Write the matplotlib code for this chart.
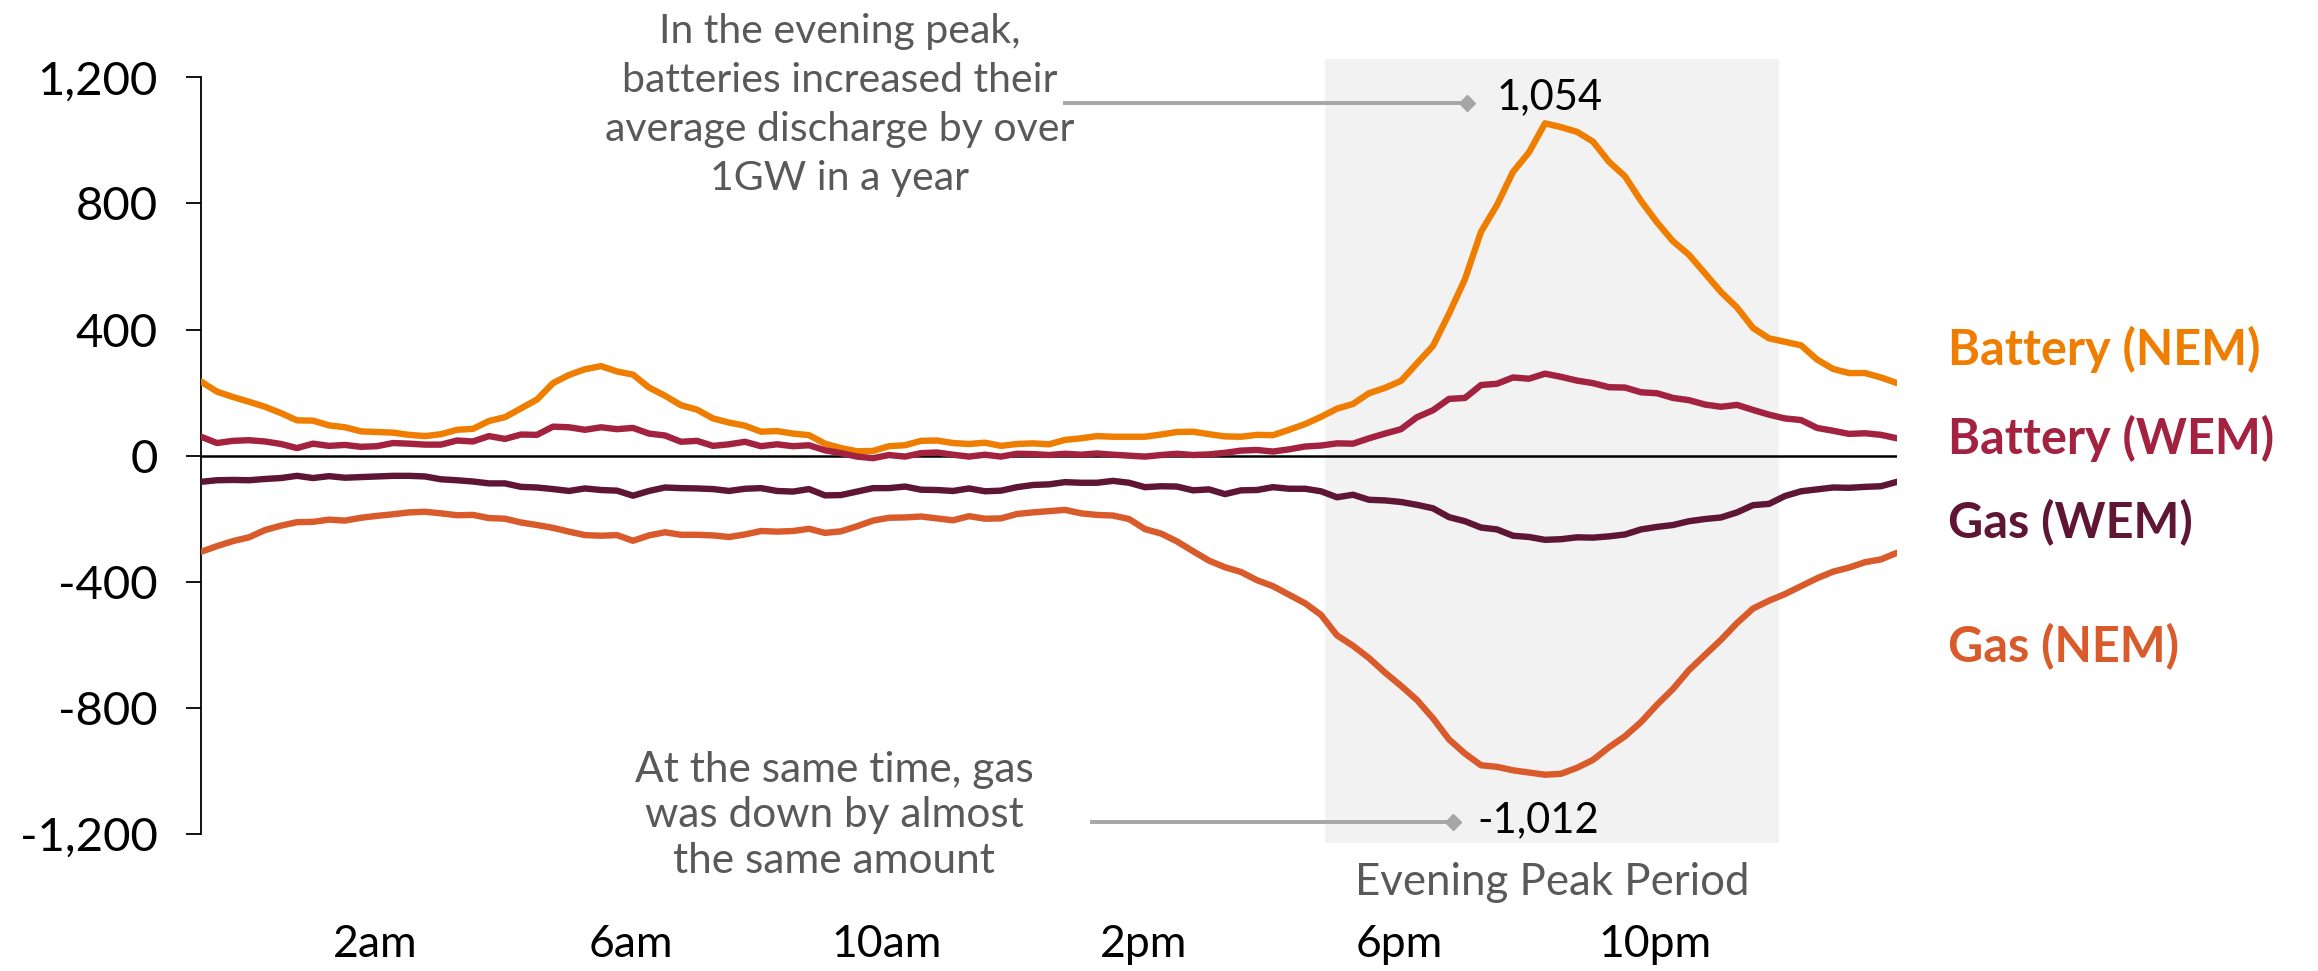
import numpy as np
import matplotlib
matplotlib.use("Agg")
import matplotlib.pyplot as plt

# ---------------- data (MW, average by time of day) ----------------
battery_nem = [235, 203, 186, 171, 155, 135, 112, 111, 96, 90,
               77, 75, 73, 66, 62, 68, 82, 85, 110, 122,
               150, 178, 230, 256, 274, 284, 267, 257, 216, 190,
               160, 146, 118, 105, 95, 76, 78, 70, 65, 38,
               24, 14, 15, 30, 33, 47, 48, 40, 37, 41,
               31, 37, 39, 36, 50, 55, 62, 60, 60, 60,
               67, 75, 76, 68, 61, 60, 66, 65, 82, 100,
               123, 149, 164, 198, 215, 237, 293, 348, 450, 560,
               710, 795, 900, 962, 1054, 1042, 1027, 996, 932, 886,
               808, 740, 680, 637, 578, 519, 470, 405, 372, 361,
               350, 305, 275, 262, 262, 248, 230]

battery_wem = [60, 40, 47, 49, 45, 37, 24, 38, 31, 34,
               28, 30, 40, 38, 35, 35, 48, 45, 62, 53,
               67, 66, 92, 90, 82, 90, 84, 88, 70, 64,
               44, 47, 31, 36, 44, 30, 36, 30, 33, 17,
               8, -3, -8, 2, -3, 8, 10, 3, -3, 3,
               -3, 6, 5, 2, 6, 3, 7, 3, 0, -3,
               2, 6, 2, 4, 9, 16, 18, 13, 20, 29,
               32, 39, 38, 55, 70, 84, 122, 144, 180, 183,
               224, 228, 248, 244, 260, 250, 238, 230, 217, 216,
               201, 198, 183, 176, 162, 155, 161, 145, 130, 118,
               113, 88, 79, 69, 71, 66, 55]

gas_wem = [-83, -78, -77, -78, -74, -71, -64, -71, -65, -70,
           -68, -66, -64, -64, -66, -75, -78, -82, -88, -88,
           -99, -101, -106, -112, -104, -109, -111, -127, -112, -101,
           -103, -104, -106, -112, -105, -103, -112, -114, -106, -126,
           -125, -114, -103, -103, -98, -108, -109, -112, -104, -113,
           -111, -100, -93, -91, -84, -86, -86, -80, -86, -100,
           -97, -98, -110, -107, -122, -110, -109, -100, -105, -105,
           -113, -132, -124, -140, -142, -147, -156, -167, -195, -208,
           -228, -234, -254, -258, -267, -265, -259, -260, -256, -250,
           -234, -226, -220, -208, -201, -196, -180, -157, -153, -128,
           -113, -107, -101, -102, -99, -97, -83]

gas_nem = [-305, -287, -271, -259, -236, -222, -211, -210, -203, -206,
           -197, -191, -186, -180, -178, -183, -189, -188, -198, -200,
           -212, -220, -229, -241, -252, -254, -252, -270, -253, -243,
           -251, -251, -253, -258, -250, -239, -241, -239, -232, -245,
           -240, -224, -206, -197, -196, -193, -199, -205, -192, -200,
           -199, -185, -180, -176, -172, -183, -188, -190, -201, -233,
           -247, -272, -303, -333, -354, -369, -395, -414, -441, -468,
           -505, -570, -603, -642, -688, -730, -775, -833, -900, -945,
           -982, -987, -998, -1005, -1012, -1009, -990, -965, -925, -890,
           -845, -790, -740, -680, -632, -584, -531, -485, -460, -439,
           -414, -389, -368, -355, -338, -329, -308]

# time axis (hours), 15-minute steps
hours = -0.72 + 0.25 * np.arange(len(battery_nem))

x_tick_hours = [2, 6, 10, 14, 18, 22]
x_tick_labels = ["2am", "6am", "10am", "2pm", "6pm", "10pm"]
y_ticks = [1200, 800, 400, 0, -400, -800, -1200]
y_tick_labels = ["1,200", "800", "400", "0", "-400", "-800", "-1,200"]
peak_period = (16.84, 23.94)

series_names = ["Battery (NEM)", "Battery (WEM)", "Gas (WEM)", "Gas (NEM)"]
series_values = [battery_nem, battery_wem, gas_wem, gas_nem]
series_colors = ["#EF7D00", "#A2223F", "#5E1634", "#D95B2B"]
label_y = [337, 54, -213, -605]

# ---------------- figure ----------------
plt.rcParams["font.family"] = ["Lato", "DejaVu Sans"]
GREY = "#595959"

fig = plt.figure(figsize=(23.18, 9.71), dpi=100)
ax = fig.add_axes([0.08671, 0.14109, 0.73167, 0.77930])
ax.set_xlim(hours[0], hours[-1])
ax.set_ylim(-1200, 1200)

# evening peak shading
ax.axvspan(peak_period[0], peak_period[1], ymin=-0.012, ymax=1.024,
           color="#F2F2F2", lw=0, zorder=0, clip_on=False)

ax.axhline(0, color="black", lw=1.8, zorder=1)

for vals, col in zip(series_values, series_colors):
    ax.plot(hours, vals, color=col, lw=4.6, solid_joinstyle="round",
            solid_capstyle="round", zorder=3)

for name, col, yv in zip(series_names, series_colors, label_y):
    ax.text(hours[-1] + 0.80, yv, name, color=col, fontsize=35,
            fontweight="bold", ha="left", va="center")

# axes styling
for s in ["top", "right", "bottom"]:
    ax.spines[s].set_visible(False)
ax.spines["left"].set_linewidth(1.3)

ax.set_yticks(y_ticks)
ax.set_yticklabels(y_tick_labels, fontsize=34)
ax.tick_params(axis="y", length=11, width=1.3, pad=20, direction="out")
ax.set_xticks(x_tick_hours)
ax.set_xticklabels(x_tick_labels, fontsize=32)
ax.tick_params(axis="x", length=0, pad=65)

# annotations
ax.text(9.26, 1112,
        "In the evening peak,\nbatteries increased their\naverage discharge by over\n1GW in a year",
        ha="center", va="center", multialignment="center",
        fontsize=29.5, color=GREY, linespacing=1.40)
ax.plot([12.78, 19.06], [1120, 1120], color="#A6A6A6", lw=2.8,
        marker="D", markevery=[1], markersize=8, clip_on=False, zorder=2)
ax.text(19.53, 1136, f"{max(battery_nem):,}", ha="left", va="center",
        fontsize=30, color="black")

ax.text(9.17, -1141,
        "At the same time, gas\nwas down by almost\nthe same amount",
        ha="center", va="center", multialignment="center",
        fontsize=30.5, color=GREY, linespacing=1.25)
ax.plot([13.20, 18.84], [-1163, -1163], color="#A6A6A6", lw=2.8,
        marker="D", markevery=[1], markersize=8, clip_on=False, zorder=2)
ax.text(19.22, -1157, f"{min(gas_nem):,}", ha="left", va="center",
        fontsize=30, color="black")

ax.text(sum(peak_period) / 2, -1353, "Evening Peak Period", ha="center",
        va="center", fontsize=31.5, color=GREY)

fig.savefig("out.png", dpi=100)
